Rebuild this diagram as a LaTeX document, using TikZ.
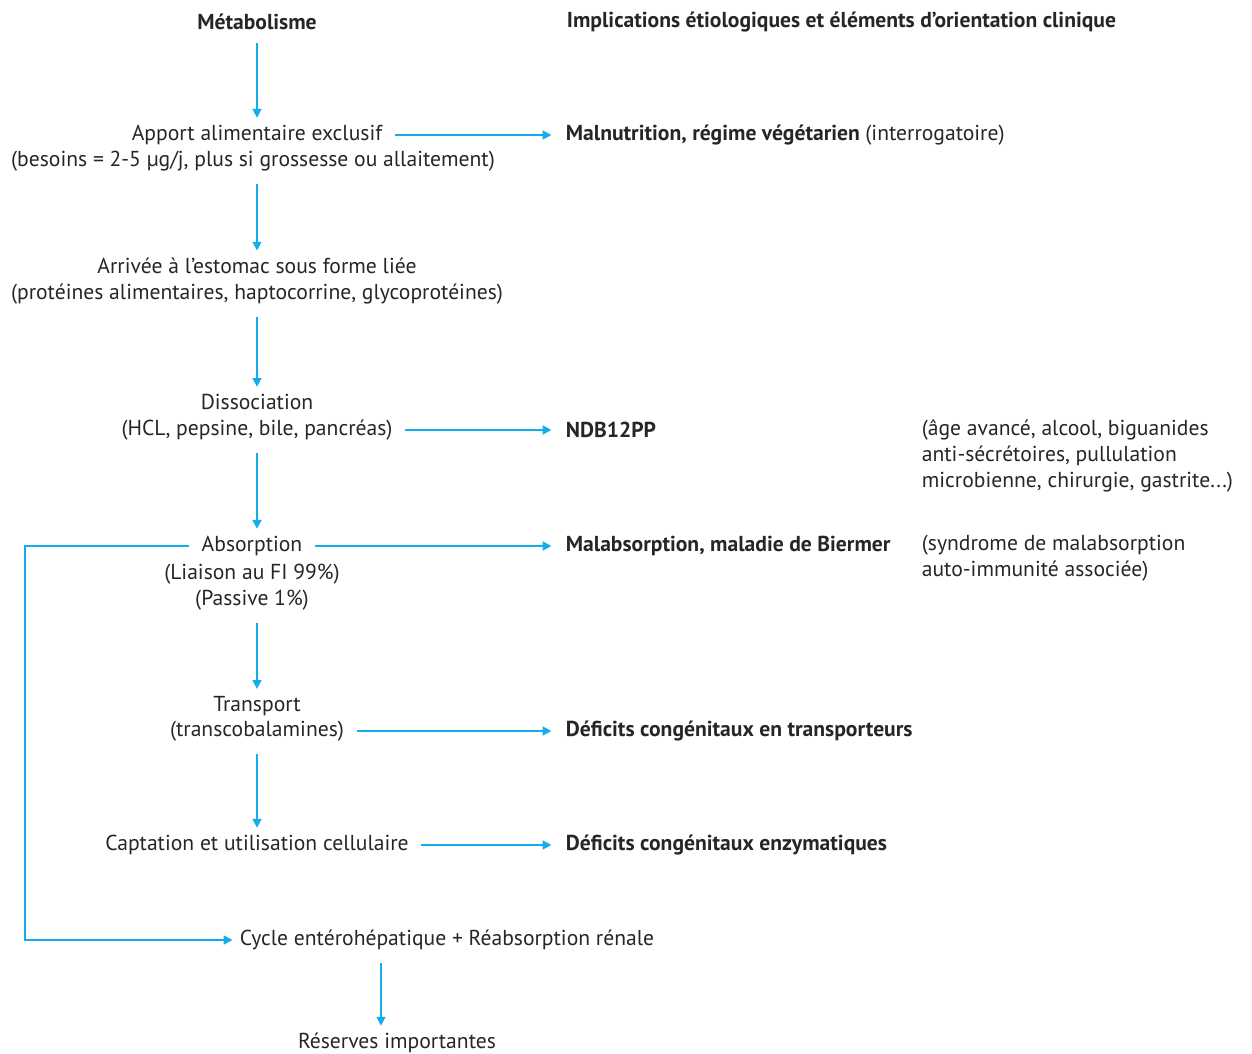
\documentclass[tikz,border=0pt]{standalone}
\usepackage{fontspec}
\setmainfont{PT Sans}
\usetikzlibrary{arrows.meta}
\definecolor{fleche}{RGB}{20,172,238}
\tikzset{
	fleche/.style={draw=fleche, line width=1.1pt, shorten <=5pt, shorten >=2pt, -{Triangle[length=5pt,width=5pt]}},
	txt/.style={inner sep=2pt, align=center, text=black!85, font=\fontsize{12.3}{14.7}\selectfont},
	titre/.style={txt, font=\fontsize{12.3}{14.7}\selectfont\bfseries},
	cause/.style={txt, anchor=west, inner xsep=6pt},
	note/.style={txt, anchor=west, align=left},
}

\begin{document}
\begin{tikzpicture}[x=0.02cm, y=-0.02cm]
	\useasboundingbox (0,0) rectangle (1252,1054);
	\node[titre] (meta) at (257,22) {Métabolisme};
	\node[titre, anchor=west] (impl) at (563,22) {Implications étiologiques et éléments d’orientation clinique};
	\node[txt] (apport) at (257,135) {Apport alimentaire exclusif};
	\node[txt] (apportb) at (253,161) {(besoins = 2-5 µg/j, plus si grossesse ou allaitement)};
	\node[txt] (arrivee) at (257,281) {Arrivée à l’estomac sous forme liée\\(protéines alimentaires, haptocorrine, glycoprotéines)};
	\node[txt] (dissoc) at (257,402) {Dissociation};
	\node[txt] (dissocb) at (257,430) {(HCL, pepsine, bile, pancréas)};
	\node[txt] (absorp) at (252,546) {Absorption};
	\node[txt] (absorpb) at (252,587) {(Liaison au FI 99\%)\\(Passive 1\%)};
	\node[txt] (transp) at (257,706) {Transport};
	\node[txt] (transpb) at (257,731) {(transcobalamines)};
	\node[txt] (captation) at (257,845) {Captation et utilisation cellulaire};
	\node[txt, anchor=west] (cycle) at (236,940) {Cycle entérohépatique + Réabsorption rénale};
	\node[txt] (reserve) at (397,1043) {Réserves importantes};
	\coordinate (boucle) at (25,940);
	\coordinate (descente) at (381,0);

	\node[cause] (malnut) at (555,135) {\bfseries Malnutrition, régime végétarien \mdseries(interrogatoire)};
	\node[cause] (ndb) at (555,430) {\bfseries NDB12PP};
	\node[note] (ndbnote) at (918,456) {(âge avancé, alcool, biguanides\\anti-sécrétoires, pullulation\\microbienne, chirurgie, gastrite...)};
	\node[cause] (malabs) at (555,546) {\bfseries Malabsorption, maladie de Biermer};
	\node[note] (malabsnote) at (918,558) {(syndrome de malabsorption\\auto-immunité associée)};
	\node[cause] (deftransp) at (555,731) {\bfseries Déficits congénitaux en transporteurs};
	\node[cause] (defenz) at (555,845) {\bfseries Déficits congénitaux enzymatiques};

	\draw[fleche] (meta) -- (apport);
	\draw[fleche] (apportb.south -| meta) -- (arrivee.north -| meta);
	\draw[fleche] (arrivee) -- (dissoc);
	\draw[fleche] (dissocb.south -| meta) -- (absorp.north -| meta);
	\draw[fleche] (absorpb.south -| meta) -- (transp.north -| meta);
	\draw[fleche] (transpb) -- (captation);
	\draw[fleche] (cycle.south -| descente) -- (reserve.north -| descente);

	\draw[fleche] (apport) -- (malnut);
	\draw[fleche] (dissocb) -- (ndb);
	\draw[fleche] (absorp) -- (malabs);
	\draw[fleche] (transpb) -- (deftransp);
	\draw[fleche] (captation) -- (defenz);
	\draw[fleche] (absorp.west) -- (absorp.west -| boucle) |- (cycle.west);
\end{tikzpicture}
\end{document}
